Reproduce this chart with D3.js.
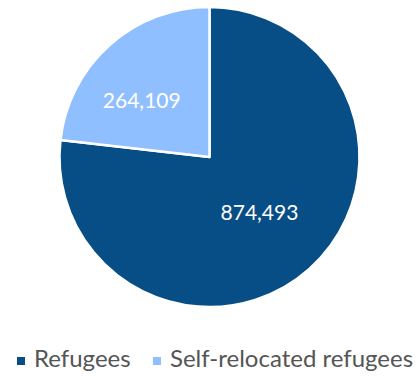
<!DOCTYPE html>
<html><head><meta charset="utf-8">
<script src="https://cdn.jsdelivr.net/npm/d3@7"></script>
<style>html,body{margin:0;padding:0;background:#fff;}svg{display:block;font-family:Lato,sans-serif;}</style>
</head><body>
<svg id="c" width="419" height="376"></svg>
<script>
const categories = ["Refugees", "Self-relocated refugees"];
const values = [874493, 264109];
const colors = ["#084e86", "#8fbfff"];

const svg = d3.select("#c");
const cx = 209.5, cy = 157, R = 150;
const g = svg.append("g").attr("transform", `translate(${cx},${cy})`);
const pie = d3.pie().sort(null).value(d => d.v);
const data = pie(categories.map((c, i) => ({c, v: values[i], col: colors[i]})));
const arc = d3.arc().innerRadius(0).outerRadius(R);
g.selectAll("path").data(data).join("path")
  .attr("d", arc).attr("fill", d => d.data.col)
  .attr("stroke", "#fff").attr("stroke-width", 2.5).attr("stroke-linejoin", "round");
const labelR = [75, 88];
const fmt = d3.format(",");
g.selectAll("text.lbl").data(data).join("text").attr("class", "lbl")
  .attr("transform", (d, i) => {
    const a = (d.startAngle + d.endAngle) / 2 - (i === 1 ? 0.15 : 0);
    return `translate(${labelR[i] * Math.sin(a)},${-labelR[i] * Math.cos(a)})`;
  })
  .attr("text-anchor", "middle").attr("dy", "0.35em")
  .attr("fill", "#fff").attr("font-size", 21)
  .text(d => fmt(d.data.v));

const legendX = [17, 153];
const lg = svg.selectAll("g.leg").data(categories).join("g").attr("class", "leg")
  .attr("transform", (d, i) => `translate(${legendX[i]},361)`);
lg.append("rect").attr("x", 0).attr("y", -4).attr("width", 8).attr("height", 8).attr("fill", (d, i) => colors[i]);
lg.append("text").attr("x", 17).attr("y", -2).attr("dy", "0.35em").attr("font-size", 24).attr("fill", "#555").text(d => d);
</script>
</body></html>
